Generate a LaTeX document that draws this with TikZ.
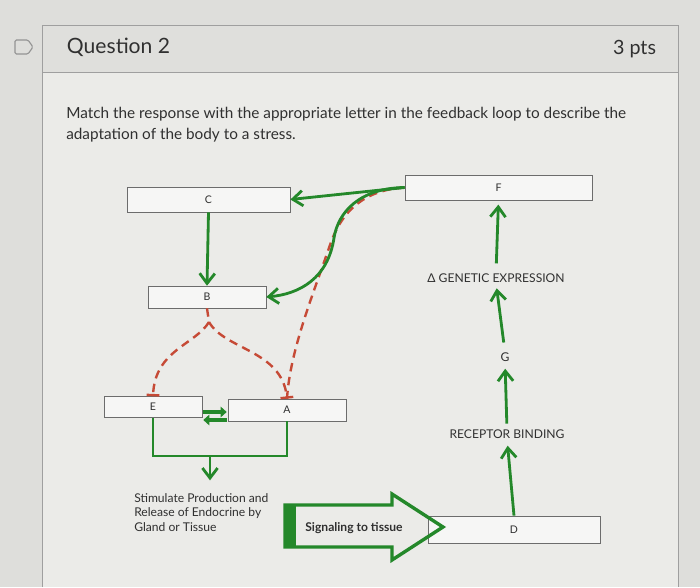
\documentclass[tikz,border=0pt]{standalone}
\usepackage{fontspec}
\setmainfont{Lato}
\usetikzlibrary{arrows.meta,calc}
\definecolor{leafgreen}{RGB}{36,136,42}
\definecolor{dashred}{RGB}{198,74,54}
\definecolor{screen}{RGB}{222,222,219}
\definecolor{card}{RGB}{235,235,232}
\definecolor{band}{RGB}{223,223,220}
\definecolor{ink}{RGB}{48,48,48}
\begin{document}
\begin{tikzpicture}[
  x=0.025cm, y=-0.025cm,
  every node/.style={text=ink},
  lbox/.style={draw=gray!85!black, fill=white!55!card, inner sep=0pt, font=\fontsize{7.5}{8}\selectfont},
  garrow/.style={-{Straight Barb[length=2.5mm,width=3.8mm]}, line width=2pt, draw=leafgreen},
  gline/.style={line width=2pt, draw=leafgreen},
  pairarrow/.style={-{Triangle[length=1.5mm,width=2.6mm]}, line width=2.6pt, draw=leafgreen},
  rdash/.style={dash pattern=on 6pt off 4pt, line width=1.7pt, draw=dashred},
  caption/.style={font=\fontsize{8.6}{10.3}\selectfont, inner sep=0pt}
]
% screen and question card
\fill[screen] (0,0) rectangle (700,587);
\fill[band] (42,25) rectangle (678,72);
\fill[card] (42,72) rectangle (678,587);
\draw[gray!75] (42,587) -- (42,25) -- (678,25) -- (678,587);
\draw[gray!75] (42,72) -- (678,72);
\useasboundingbox (0,0) rectangle (700,587);
\draw[gray!85, line width=0.8pt, rounded corners=1pt] (15,40) -- (28,40) -- (33,47) -- (28,54) -- (15,54) -- cycle;

\node[anchor=west, font=\fontsize{15}{17}\selectfont] (qtitle) at (62,47) {Question 2};
\node[anchor=east, font=\fontsize{14}{16}\selectfont] (pts) at (661,49) {3 pts};
\node[anchor=north west, align=left, inner sep=0pt, font=\fontsize{10.9}{14.9}\selectfont] (prompt) at (66,107)
  {Match the response with the appropriate letter in the feedback loop to describe the\\adaptation of the body to a stress.};

% letter boxes
\node[lbox, minimum width=4.08cm, minimum height=0.63cm] (c) at (208.5,199.5) {C};
\node[lbox, minimum width=4.68cm, minimum height=0.63cm] (f) at (498.5,187.5) {F};
\node[lbox, minimum width=2.95cm, minimum height=0.55cm] (b) at (207,297) {B};
\node[lbox, minimum width=2.45cm, minimum height=0.52cm] (e) at (153,407) {E};
\node[lbox, minimum width=2.95cm, minimum height=0.55cm] (a) at (287,410) {A};
\node[lbox, minimum width=4.3cm, minimum height=0.68cm] (d) at (514,529.5) {D};

% labels
\node[caption] (gen) at (496,278) {Δ GENETIC EXPRESSION};
\node[caption] (g) at (505,357) {G};
\node[caption] (rec) at (507,434) {RECEPTOR BINDING};
\node[caption, anchor=north west, align=left] (stim) at (134,493)
  {Stimulate Production and\\Release of Endocrine by\\Gland or Tissue};
\node[caption, font=\bfseries\fontsize{8.6}{10}\selectfont] (sig) at (354,528) {Signaling to tissue};

% right column
\draw[garrow, shorten <=7pt, shorten >=3pt] (gen.north) -- (f.south);
\draw[garrow, shorten <=7pt, shorten >=4pt] (g.north) -- (gen.south);
\draw[garrow, shorten <=4pt, shorten >=5pt] (rec.north) -- (g.south);
\draw[garrow, shorten >=5pt] (d.north) -- (rec.south);

% feedback from F
\draw[rdash] (f.west) .. controls (365,190) and (342,210) .. (330,245)
  .. controls (314,292) and (290,350) .. (a.north);
\draw[garrow] (f.west) -- (c.east);
\draw[garrow] (f.west) .. controls (360,188) and (338,212) .. (334,238)
  .. controls (328,278) and (300,294) .. (b.east);
\draw[garrow] (c.south) -- (b.north);

% B splits to E and A
\coordinate (fork) at (209,322);
\draw[rdash] (b.south) -- (fork);
\draw[rdash, -{Bar[width=3.2mm]}] (fork) .. controls (195,345) and (155,350) .. (e.north);
\draw[rdash, -{Bar[width=3.2mm]}] (fork) .. controls (225,350) and (282,350) .. (a.north);

\draw[pairarrow] ($(e.east)+(1,5)$) -- ($(e.east -| a.west)+(-1,5)$);
\draw[pairarrow] ($(e.east -| a.west)+(-1,13)$) -- ($(e.east)+(1,13)$);

\coordinate (join) at (210,456);
\draw[gline] (e.south) |- (join) -| (a.south);
\draw[garrow, shorten >=9pt] (join) -- (join |- stim.north);

% signaling arrow
\fill[leafgreen] (285,505) rectangle (296,547);
\draw[leafgreen, line width=2.4pt, line join=miter] (285,505) -- (392,505) -- (392,494) -- (443,527)
  -- (392,560) -- (392,547) -- (285,547) -- cycle;
\end{tikzpicture}
\end{document}
